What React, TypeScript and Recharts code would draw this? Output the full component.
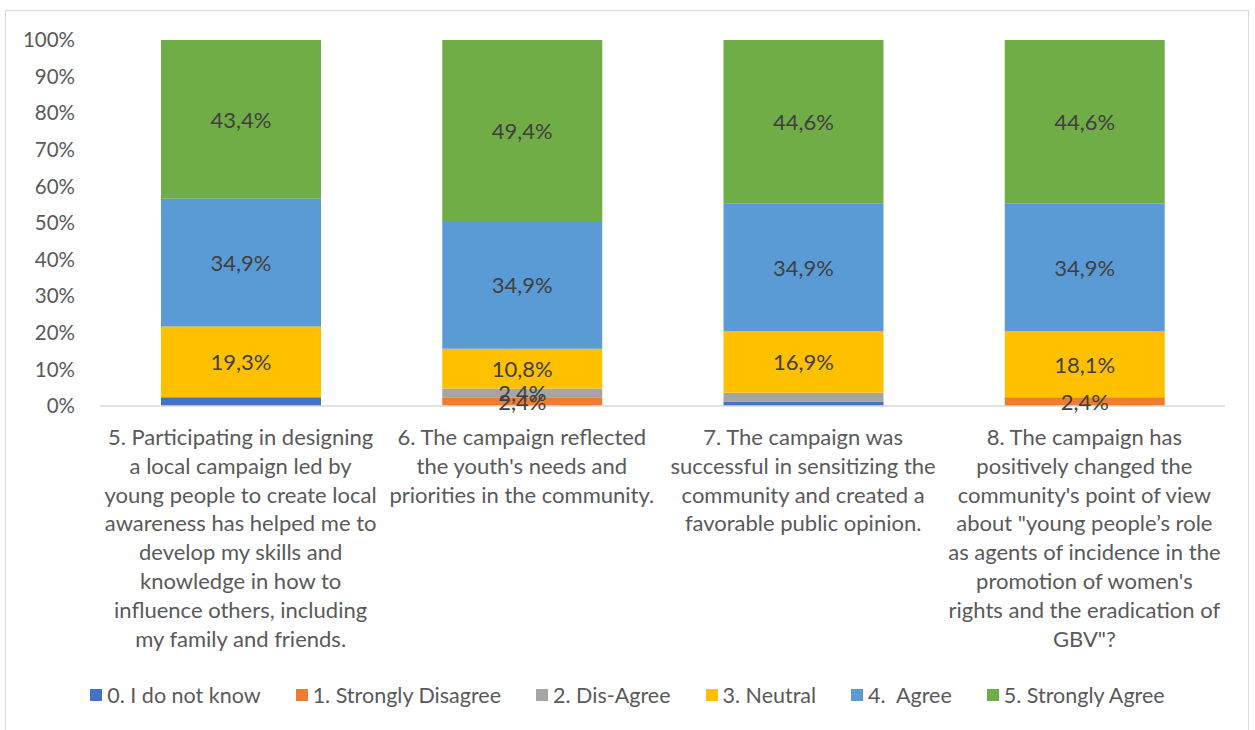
import React from 'react';
import { BarChart, Bar, XAxis, YAxis, LabelList } from 'recharts';

const categories = [
  "5. Participating in designing\na local campaign led by\nyoung people to create local\nawareness has helped me to\ndevelop my skills and\nknowledge in how to\ninfluence others, including\nmy family and friends.",
  "6. The campaign reflected\nthe youth's needs and\npriorities in the community.",
  "7. The campaign was\nsuccessful in sensitizing the\ncommunity and created a\nfavorable public opinion.",
  "8. The campaign has\npositively changed the\ncommunity's point of view\nabout \"young people\u2019s role\nas agents of incidence in the\npromotion of women's\nrights and the eradication of\nGBV\"?",
];

const seriesNames = [
  "0. I do not know",
  "1. Strongly Disagree",
  "2. Dis-Agree",
  "3. Neutral",
  "4.  Agree",
  "5. Strongly Agree",
];
const seriesColors = ["#4472C4", "#ED7D31", "#A5A5A5", "#FFC000", "#5B9BD5", "#70AD47"];

const dontKnow = [2.4, 0, 1.2, 0];
const stronglyDisagree = [0, 2.4, 0, 2.4];
const disAgree = [0, 2.4, 2.4, 0];
const neutral = [19.3, 10.8, 16.9, 18.1];
const agree = [34.9, 34.9, 34.9, 34.9];
const stronglyAgree = [43.4, 49.4, 44.6, 44.6];

// which data labels are displayed in the original
const labelShown = [
  [false, false, false, false],
  [false, true, false, true],
  [false, true, false, false],
  [true, true, true, true],
  [true, true, true, true],
  [true, true, true, true],
];

const yTicks = [0, 0.1, 0.2, 0.3, 0.4, 0.5, 0.6, 0.7, 0.8, 0.9, 1];

const seriesValues = [dontKnow, stronglyDisagree, disAgree, neutral, agree, stronglyAgree];
const keys = ["s0", "s1", "s2", "s3", "s4", "s5"];

const data = categories.map((c, i) => {
  const row: any = { name: c };
  seriesValues.forEach((arr, s) => {
    row[keys[s]] = arr[i];
    row["lbl" + s] = labelShown[s][i] && arr[i] ? arr[i].toFixed(1).replace(".", ",") + "%" : "";
  });
  return row;
});

const FONT = "Lato, 'Noto Sans', sans-serif";

const CategoryTick = (props: any) => {
  const { x, y, payload } = props;
  const lines: string[] = String(payload.value).split("\n");
  return (
    <text x={x} y={y} textAnchor="middle" fill="#595959" fontSize={22} fontFamily={FONT}>
      {lines.map((l, i) => (
        <tspan key={i} x={x} dy={i === 0 ? 39 : 28.8}>
          {l}
        </tspan>
      ))}
    </text>
  );
};

const renderLabel = (props: any) => {
  const { x, y, width, height, value } = props;
  if (!value) return null;
  return (
    <text
      x={Number(x) + Number(width) / 2}
      y={Number(y) + Number(height) / 2}
      textAnchor="middle"
      dominantBaseline="central"
      fill="#404040"
      fontSize={22}
      fontFamily={FONT}
    >
      {value}
    </text>
  );
};

export default function App() {
  return (
    <div style={{ position: "absolute", left: 0, top: 0, width: 1255, height: 730, background: "#fff", fontFamily: FONT }}>
      <div
        style={{
          position: "absolute",
          left: 5,
          top: 10,
          width: 1244,
          height: 730,
          border: "1px solid #d9d9d9",
          boxSizing: "border-box",
        }}
      />
      <div style={{ position: "absolute", left: 0, top: 0 }}>
        <BarChart
          width={1255}
          height={730}
          data={data}
          stackOffset="expand"
          margin={{ top: 40, right: 30, left: 25, bottom: 64 }}
        >
          <XAxis
            dataKey="name"
            interval={0}
            height={260}
            tickLine={false}
            tickSize={0}
            tickMargin={0}
            axisLine={{ stroke: "#d9d9d9", strokeWidth: 1.5 }}
            tick={<CategoryTick />}
          />
          <YAxis
            type="number"
            domain={[0, 1]}
            ticks={yTicks}
            width={75}
            axisLine={false}
            tickLine={false}
            tickSize={0}
            tickMargin={25}
            tickFormatter={(v: number) => Math.round(v * 100) + "%"}
            tick={{ fill: "#595959", fontSize: 20.5, fontFamily: FONT }}
          />
          {keys.map((k, s) => (
            <Bar key={k} dataKey={k} name={seriesNames[s]} stackId="a" fill={seriesColors[s]} barSize={160} isAnimationActive={false}>
              <LabelList dataKey={"lbl" + s} content={renderLabel} />
            </Bar>
          ))}
        </BarChart>
      </div>
      <div
        style={{
          position: "absolute",
          left: 0,
          top: 682,
          width: 1255,
          display: "flex",
          justifyContent: "center",
          gap: 35,
          color: "#595959",
          fontSize: 21.5,
          fontFamily: FONT,
          lineHeight: "26px",
        }}
      >
        {seriesNames.map((n, i) => (
          <div key={n} style={{ display: "flex", alignItems: "center" }}>
            <span style={{ display: "inline-block", width: 12, height: 12, background: seriesColors[i], marginRight: 5 }} />
            <span style={{ whiteSpace: "pre" }}>{n}</span>
          </div>
        ))}
      </div>
    </div>
  );
}
